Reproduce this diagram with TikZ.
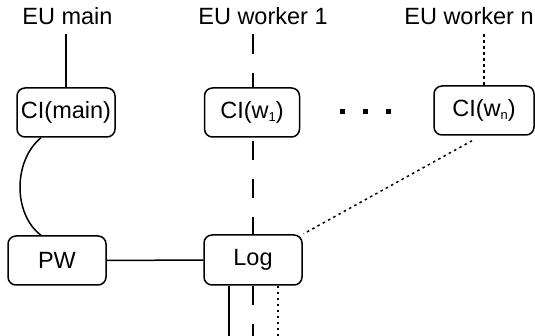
\documentclass[tikz,border=0pt]{standalone}
\usepackage{fontspec}
\setmainfont{Liberation Sans}
\newcommand\lowsub[1]{\raisebox{-3pt}{\fontsize{13}{13}\selectfont #1}}
\begin{document}
\begin{tikzpicture}[x=1pt,y=-1pt,
  every node/.style={font=\fontsize{23.5}{28}\selectfont},
  lbl/.style={inner sep=0pt,text height=17pt,text depth=9pt,anchor=base},
  box/.style={draw,rounded corners=8pt,fill=white,line width=1.5pt,inner sep=0pt,minimum height=49pt},
  sq/.style={fill,inner sep=0pt,minimum size=5pt},
  line/.style={line width=1.5pt},
  dashline/.style={line,dash pattern=on 19.5pt off 19pt},
  dotline/.style={line,dash pattern=on 2.5pt off 3.5pt},
]
\useasboundingbox (0,0) rectangle (535,336);

% execution unit labels
\node[lbl] (eumain) at (67.5,25) {EU main};
\node[lbl] (euw1)   at (263,25)  {EU worker 1};
\node[lbl] (euwn)   at (469,25)  {EU worker n};

% boxes
\node[box,minimum width=98pt]  (cimain) at (66,112.5)  {CI(main)};
\node[box,minimum width=95pt]  (ciw1)   at (252,112.5) {CI(w\lowsub{1})};
\node[box,minimum width=100pt] (ciwn)   at (484,110.5) {CI(w\lowsub{n})};
\node[box,minimum width=98pt]  (pw)     at (57,260.5)  {PW};
\node[box,minimum width=98pt,minimum height=50pt] (log) at (253,260) {Log};

% ellipsis between workers
\node[sq] (d1) at (342,112) {};
\node[sq] (d2) at (365,112) {};
\node[sq] (d3) at (388,112) {};

% free ends of the outgoing lines
\coordinate (b1) at (229,336);
\coordinate (b2) at (253,336);
\coordinate (b3) at (278,336);

% main
\draw[line] (eumain.south -| cimain.north) -- (cimain.north);
\draw[line] ([xshift=-25pt]cimain.south) .. controls +(-28,23) and +(-28,-21) .. ([xshift=-16pt]pw.north);
\draw[line] (pw.east) -- (log.west);

% worker 1
\draw[dashline] (euw1.south -| log.north) -- (ciw1.north -| log.north);
\draw[line,dash pattern=on 19pt off 19pt,dash phase=35pt] (ciw1.south -| log.north) -- (log.north);

% worker n
\draw[dotline] (euwn.south -| ciwn.north) -- (ciwn.north);
\draw[dotline,shorten >=1pt] ([xshift=-12pt,yshift=-5pt]ciwn.south) -- (log.north east);

% outgoing lines below the log
\draw[line] (b1 |- log.south) -- (b1);
\draw[line,dash pattern=on 19pt off 19pt] (b2 |- log.south) -- (b2);
\draw[dotline] (b3 |- log.south) -- (b3);
\end{tikzpicture}
\end{document}
